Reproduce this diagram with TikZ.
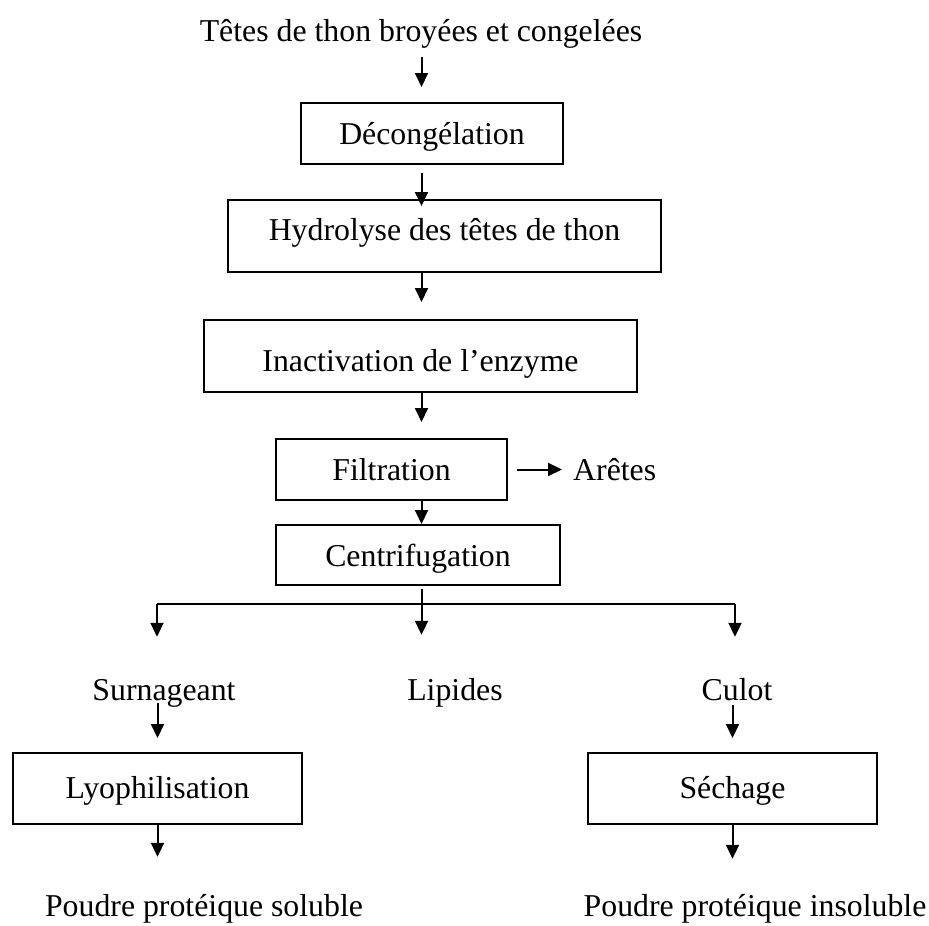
\documentclass[tikz,border=0pt]{standalone}
\usepackage{fontspec}
\setmainfont{Liberation Serif}
\usetikzlibrary{arrows.meta,calc}
\begin{document}
\begin{tikzpicture}[x=1pt,y=-1pt,
  font=\fontsize{31.8pt}{38pt}\selectfont,
  lw/.style={line width=2pt},
  arr/.style={lw,-{Triangle[length=14pt,width=13pt]}},
  stepbox/.style={draw,lw,rectangle,inner sep=0pt,text height=22pt,text depth=0pt},
  lbl/.style={inner sep=0pt,text height=22pt,text depth=7pt,anchor=base}
]
\useasboundingbox (0,0) rectangle (929,926);
\coordinate (col) at (421.5,0);
% text labels
\node[lbl] (title) at (421,41) {Têtes de thon broyées et congelées};
% boxes
\node[stepbox,minimum width=262pt,minimum height=61pt] (dec) at (432,133.5) {Décongélation};
\node[stepbox,minimum width=433pt,minimum height=72pt,text depth=14pt] (hyd) at (444.5,236) {Hydrolyse des têtes de thon};
\node[stepbox,minimum width=433pt,minimum height=72pt,text height=30pt] (ina) at (420.5,356) {Inactivation de l’enzyme};
\node[stepbox,minimum width=231pt,minimum height=61pt] (fil) at (391.5,469.5) {Filtration};
\node[stepbox,minimum width=284pt,minimum height=60pt] (cen) at (418,555) {Centrifugation};
\node[lbl,anchor=base west] (are) at (573,480) {Arêtes};
\node[lbl] (sur) at (164,700) {Surnageant};
\node[lbl] (lip) at (455,700) {Lipides};
\node[lbl] (cul) at (737,700) {Culot};
\node[stepbox,minimum width=289pt,minimum height=71pt,text depth=3pt] (lyo) at (157.5,788.5) {Lyophilisation};
\node[stepbox,minimum width=289pt,minimum height=71pt,text depth=3pt] (sec) at (732.5,788.5) {Séchage};
\node[lbl] (ps) at (204,916) {Poudre protéique soluble};
\node[lbl] (pi) at (755,916) {Poudre protéique insoluble};
% connectors
\draw[arr,shorten <=9pt,shorten >=15pt] (title.south -| col) -- (dec.north -| col);
\draw[arr,shorten <=8pt,shorten >=-7pt] (dec.south -| col) -- (hyd.north -| col);
\draw[arr,shorten >=17pt] (hyd.south -| col) -- (ina.north -| col);
\draw[arr,shorten >=16pt] (ina.south -| col) -- (fil.north -| col);
\draw[arr] (fil.south -| col) -- (cen.north -| col);
\draw[arr,shorten <=9pt,shorten >=11pt] (fil.east) -- (fil.east -| are.west);
\draw[arr,shorten <=3pt,shorten >=43pt] (cen.south -| col) -- (lip.north -| col);
\coordinate (bl) at (157,604);
\coordinate (bri) at (735,604);
\draw[lw] (bl) -- (bri);
\draw[arr,shorten >=41pt] (bl) -- (bl |- sur.north);
\draw[arr,shorten >=41pt] (bri) -- (bri |- cul.north);
\draw[arr,shorten <=-4pt,shorten >=14pt] (sur.south -| lyo) -- (lyo.north);
\draw[arr,shorten <=-2pt,shorten >=14pt] (cul.south -| sec) -- (sec.north);
\draw[arr,shorten >=37pt] (lyo.south) -- (lyo.south |- ps.north);
\draw[arr,shorten >=35pt] (sec.south) -- (sec.south |- pi.north);
\end{tikzpicture}
\end{document}
